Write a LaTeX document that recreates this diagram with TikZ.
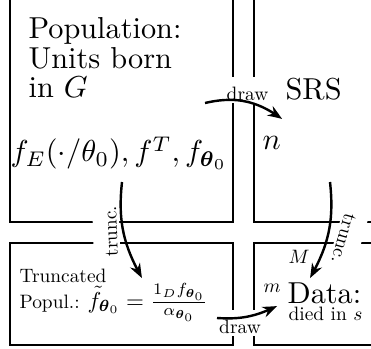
\documentclass[tikz,border=0pt]{standalone}
\usepackage{graphicx}
\usepackage{amsmath}
\usetikzlibrary{arrows.meta,bending}
\newcommand{\smtxt}[1]{\scalebox{0.64}{#1}}
\newcommand{\smmath}[1]{\scalebox{0.76}{#1}}
\begin{document}
\begin{tikzpicture}[x=0.33pt,y=-0.33pt,
  box/.style={draw, line width=0.7pt},
  bigtext/.style={font=\fontsize{10}{9.74}\selectfont, inner sep=0pt},
  smalltext/.style={font=\fontsize{10}{12}\selectfont, inner sep=0pt},
  lab/.style={font=\fontsize{10}{12}\selectfont, fill=white, inner xsep=1.2pt, inner ysep=0.8pt, text height=7.1pt, text depth=0pt},
  arr/.style={-{Stealth[length=4.8pt,width=3.6pt,bend]}, line width=0.8pt},
]
\useasboundingbox (0,0) rectangle (371,348);
\clip (0,0) rectangle (371,348);
\draw[box] (10,-20) rectangle (233,222);
\draw[box] (254,-20) rectangle (400,222);
\draw[box] (10,243) rectangle (233,345);
\draw[box] (254,243) rectangle (400,345);

\node[bigtext, align=left, anchor=north west] (pop) at (28,17) {Population:\\Units born\\in $G$};
\node[bigtext, anchor=base] (dens) at (119,162) {$f_E(\cdot/\theta_0), f^T, f_{\boldsymbol{\theta}_0}$};
\node[bigtext, anchor=base west] (srs) at (285,100) {SRS};
\node[bigtext, anchor=base west] (n) at (262,150) {$n$};
\node[smalltext, anchor=base west] (tr) at (19,282) {\smtxt{Truncated}};
\node[smalltext, anchor=base west] (popul) at (19,308) {\smtxt{Popul.:}\hspace{2.6pt}\smmath{$\tilde f_{\boldsymbol{\theta}_0} = \frac{1_D f_{\boldsymbol{\theta}_0}}{\alpha_{\boldsymbol{\theta}_0}}$}};
\node[bigtext, anchor=base west] (data) at (287,303) {Data:};
\node[smalltext, anchor=base west] (died) at (288,320) {\smtxt{died in $s$}};
\node[smalltext, anchor=base west] (m) at (263,292) {\smtxt{$m$}};
\node[smalltext, anchor=base west] (M) at (288,263) {\smtxt{$M$}};

% connector labels (white boxes that break the frame lines)
\node[lab, anchor=base] (drawA) at (247.5,100.5) {\smtxt{draw}};
\node[lab, anchor=base] (drawB) at (240,333.5) {\smtxt{draw}};
\node[lab, anchor=base, rotate=92] (truncL) at (117,231) {\smtxt{trunc.}};
\node[lab, anchor=base, rotate=-106] (truncR) at (338,237) {\smtxt{trunc.}};

\coordinate (a1) at (205,103); \coordinate (a2) at (282,119);
\coordinate (b1) at (122,182); \coordinate (b2) at (142,278);
\coordinate (c1) at (330,182); \coordinate (c2) at (310,278);
\coordinate (d1) at (217,318); \coordinate (d2) at (277,306);

\draw[arr] (a1) to[bend left=25] (a2);
\draw[arr] (d1) to[bend right=15] (d2);
\draw[arr] (b1) to[bend right=18] (b2);
\draw[arr] (c1) to[bend left=18] (c2);
\end{tikzpicture}
\end{document}
